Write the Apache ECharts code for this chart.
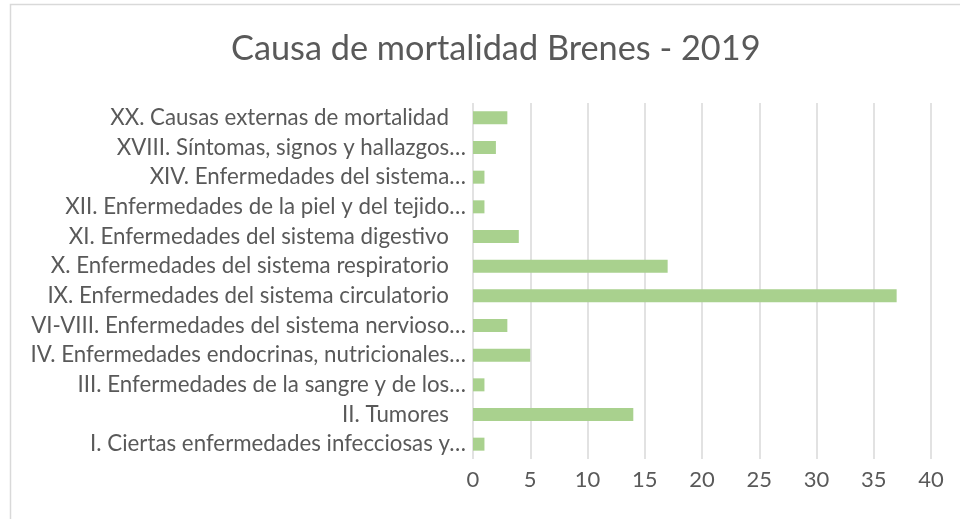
<!DOCTYPE html>
<html lang="es">
<head>
    <meta charset="UTF-8">
    <title>Causa de mortalidad Brenes - 2019</title>
    <script src="https://cdn.jsdelivr.net/npm/echarts@6/dist/echarts.min.js"></script>
    <style>
        html, body { margin: 0; padding: 0; background: #fff; }
        #chart1 { width: 960px; height: 519px; }
    </style>
</head>
<body>
    <div id="chart1"></div>
    <script>
        // datos (de abajo hacia arriba, como en el eje)
        var causas = [
            'I. Ciertas enfermedades infecciosas y…',
            'II. Tumores   ',
            'III. Enfermedades de la sangre y de los…',
            'IV. Enfermedades endocrinas, nutricionales…',
            'VI-VIII. Enfermedades del sistema nervioso…',
            'IX. Enfermedades del sistema circulatorio   ',
            'X. Enfermedades del sistema respiratorio   ',
            'XI. Enfermedades del sistema digestivo   ',
            'XII. Enfermedades de la piel y del tejido…',
            'XIV. Enfermedades del sistema…',
            'XVIII. Síntomas, signos y hallazgos…',
            'XX. Causas externas de mortalidad   '
        ];
        var defunciones = [1, 14, 1, 5, 3, 37, 17, 4, 1, 1, 2, 3];
        var ejeX = [0, 5, 10, 15, 20, 25, 30, 35, 40];

        var font = 'Lato, "Open Sans", sans-serif';
        var myChart = echarts.init(document.getElementById('chart1'));
        var option = {
            animation: false,
            backgroundColor: '#fff',
            title: {
                text: 'Causa de mortalidad Brenes - 2019',
                left: 226,
                top: 27,
                textStyle: {
                    color: '#595959',
                    fontFamily: font,
                    fontWeight: 'normal',
                    fontSize: 34.3
                }
            },
            graphic: [{
                type: 'rect',
                shape: { x: 10.5, y: 4.5, width: 1000, height: 600 },
                style: { fill: 'none', stroke: '#d9d9d9', lineWidth: 1.5 },
                silent: true
            }],
            grid: { left: 473, right: 29, top: 103, bottom: 60 },
            xAxis: {
                type: 'value',
                min: ejeX[0],
                max: ejeX[ejeX.length - 1],
                interval: 5,
                axisLine: { show: false },
                axisTick: { show: false },
                splitLine: { lineStyle: { color: '#d9d9d9', width: 1.5 } },
                axisLabel: {
                    color: '#595959',
                    fontFamily: font,
                    fontSize: 22,
                    margin: 10
                }
            },
            yAxis: {
                type: 'category',
                data: causas,
                axisLine: { show: false },
                axisTick: { show: false },
                axisLabel: {
                    color: '#595959',
                    fontFamily: font,
                    fontSize: 22.3,
                    margin: 7
                }
            },
            series: [{
                type: 'bar',
                data: defunciones,
                barWidth: 13,
                itemStyle: { color: '#a9d18e' }
            }]
        };
        myChart.setOption(option);
    </script>
</body>
</html>
